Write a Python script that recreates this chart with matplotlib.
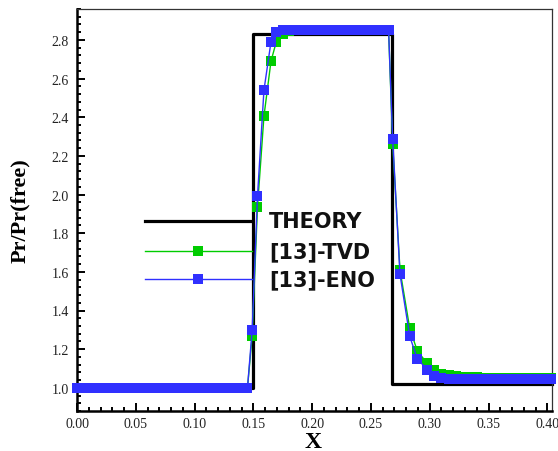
import matplotlib
matplotlib.use("Agg")
import matplotlib.pyplot as plt
from matplotlib.ticker import MultipleLocator, FormatStrFormatter

# Exact (theory) pressure-ratio profile
x_theory = [0.000, 0.1495, 0.1495, 0.2683, 0.2683, 0.404]
y_theory = [1.000, 1.000, 2.830, 2.830, 1.020, 1.020]

# Grid positions shared by both numerical schemes
x_num = [0.000, 0.005, 0.010, 0.015, 0.020, 0.025, 0.030, 0.035, 0.040, 0.045,
         0.050, 0.055, 0.060, 0.065, 0.070, 0.075, 0.080, 0.085, 0.090, 0.095,
         0.100, 0.105, 0.110, 0.115, 0.120, 0.125, 0.130, 0.135, 0.140, 0.145,
         0.149, 0.1535, 0.159, 0.165, 0.1695,
         0.175, 0.180, 0.185, 0.190, 0.195, 0.200, 0.205, 0.210, 0.215, 0.220,
         0.225, 0.230, 0.235, 0.240, 0.245, 0.250, 0.255, 0.260, 0.265,
         0.2685, 0.2747, 0.283, 0.2895, 0.298, 0.304, 0.310, 0.316,
         0.322, 0.328, 0.334, 0.340, 0.346, 0.352, 0.358, 0.364, 0.370,
         0.376, 0.382, 0.388, 0.394, 0.400, 0.403]

# [13]-TVD results
y_tvd = [1.000] * 30 + \
        [1.270, 1.935, 2.405, 2.690, 2.790] + \
        [2.830, 2.845, 2.850, 2.850, 2.850, 2.850, 2.850, 2.850, 2.850, 2.850,
         2.850, 2.850, 2.850, 2.850, 2.850, 2.850, 2.850, 2.850, 2.850] + \
        [2.260, 1.610, 1.307, 1.190, 1.126, 1.092, 1.072, 1.066,
         1.062, 1.058, 1.056, 1.054, 1.053, 1.052, 1.052, 1.052, 1.052,
         1.052, 1.052, 1.052, 1.052, 1.052, 1.052]

# [13]-ENO results
y_eno = [1.000] * 30 + \
        [1.300, 1.990, 2.540, 2.790, 2.840] + \
        [2.850, 2.852, 2.852, 2.852, 2.852, 2.852, 2.852, 2.852, 2.852, 2.852,
         2.852, 2.852, 2.852, 2.852, 2.852, 2.852, 2.852, 2.852, 2.852] + \
        [2.285, 1.588, 1.266, 1.150, 1.093, 1.060, 1.052, 1.047,
         1.045, 1.044, 1.044, 1.044, 1.044, 1.044, 1.044, 1.044, 1.044,
         1.044, 1.044, 1.044, 1.044, 1.044, 1.044]

legend_labels = ["THEORY", "[13]-TVD", "[13]-ENO"]

GREEN = "#00cc00"
BLUE = "#3030ff"
MS = 7.8

fig = plt.figure(figsize=(5.58, 4.52), dpi=100)
ax = fig.add_axes([77 / 558, 40 / 452, 475 / 558, 402 / 452])

ax.plot(x_theory, y_theory, color="black", lw=2.3, zorder=2, clip_on=False)
ax.plot(x_num, y_tvd, color=GREEN, lw=1.0, marker="s", ms=MS, mew=0,
        mfc=GREEN, zorder=3, clip_on=False)
ax.plot(x_num, y_eno, color=BLUE, lw=1.0, marker="s", ms=MS, mew=0,
        mfc=BLUE, zorder=4, clip_on=False)

# Legend drawn inside the axes
leg_rows = [0.473, 0.398, 0.328]
leg_styles = [dict(color="black", lw=2.3),
              dict(color=GREEN, lw=1.0),
              dict(color=BLUE, lw=1.0)]
for i, (yr, st, lab) in enumerate(zip(leg_rows, leg_styles, legend_labels)):
    ax.plot([0.143, 0.368], [yr, yr], transform=ax.transAxes, zorder=5, **st)
    if i > 0:
        ax.plot([0.255], [yr], transform=ax.transAxes, marker="s", ms=MS,
                mew=0, color=st["color"], zorder=6)
    ax.text(0.404, yr, lab, transform=ax.transAxes, ha="left", va="center",
            fontsize=15, fontfamily="DejaVu Sans", fontweight="bold",
            color="#111111", zorder=7)

ax.set_xlim(0.0, 0.404)
ax.set_ylim(0.88, 2.96)
ax.xaxis.set_major_locator(MultipleLocator(0.05))
ax.xaxis.set_minor_locator(MultipleLocator(0.01))
ax.yaxis.set_major_locator(MultipleLocator(0.2))
ax.yaxis.set_minor_locator(MultipleLocator(0.04))
ax.xaxis.set_major_formatter(FormatStrFormatter("%.2f"))
ax.yaxis.set_major_formatter(FormatStrFormatter("%.1f"))

ax.tick_params(which="both", direction="in", top=False, right=False,
               width=1.4, colors="black", labelcolor="#222222")
ax.tick_params(which="major", length=6)
ax.tick_params(which="minor", length=3.2)
ax.tick_params(axis="y", pad=6)
ax.tick_params(axis="x", pad=4)
for lab in ax.get_xticklabels() + ax.get_yticklabels():
    lab.set_fontfamily("Liberation Serif")
    lab.set_fontsize(10)

for side in ("left", "bottom"):
    ax.spines[side].set_linewidth(1.8)
    ax.spines[side].set_color("black")
for side in ("top", "right"):
    ax.spines[side].set_linewidth(0.9)
    ax.spines[side].set_color("#333333")

ax.set_ylabel("Pr/Pr(free)", fontfamily="Liberation Serif", fontweight="bold",
              fontsize=16)
ax.yaxis.set_label_coords(-0.099, 0.5)
ax.set_xlabel("X", fontfamily="Liberation Serif", fontweight="bold",
              fontsize=17)
ax.xaxis.set_label_coords(0.497, -0.05)

fig.savefig("out.png", dpi=100)
